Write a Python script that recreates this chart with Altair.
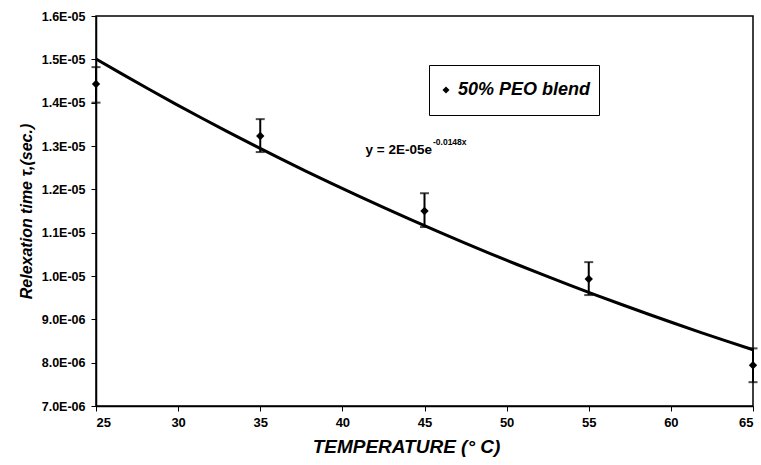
import altair as alt
import pandas as pd

# ---- data ----
temperature = [25, 35, 45, 55, 65]
tau = [1.443e-5, 1.323e-5, 1.150e-5, 0.993e-5, 0.794e-5]
tau_upper = [1.482e-5, 1.362e-5, 1.191e-5, 1.032e-5, 0.833e-5]
tau_lower = [1.400e-5, 1.286e-5, 1.113e-5, 0.956e-5, 0.755e-5]
series_name = "50% PEO blend"

x_ticks = [25, 30, 35, 40, 45, 50, 55, 60, 65]
y_ticks = [7e-6, 8e-6, 9e-6, 1.0e-5, 1.1e-5, 1.2e-5, 1.3e-5, 1.4e-5, 1.5e-5, 1.6e-5]

equation_main = "y = 2E-05e"
equation_sup = "-0.0148x"

df = pd.DataFrame({
    "temp": temperature,
    "tau": tau,
    "upper": tau_upper,
    "lower": tau_lower,
    "series": [series_name] * len(temperature),
})

FONT = "Liberation Sans"

x_scale = alt.Scale(domain=[25, 65], nice=False, zero=False)
y_scale = alt.Scale(domain=[7e-6, 1.6e-5], nice=False, zero=False)

x_axis = alt.Axis(
    values=x_ticks, title="TEMPERATURE (° C)", grid=False,
    labelFont=FONT, labelFontSize=13, labelFontWeight="bold", labelColor="black",
    labelPadding=5, tickSize=5, tickColor="black", domainColor="black", domainWidth=1.5,
    titleFont=FONT, titleFontSize=19, titleFontWeight="bold", titleFontStyle="italic",
    titleColor="black", titleX=310, titleY=40, titleBaseline="middle", titleAlign="center",
)
y_axis = alt.Axis(
    values=y_ticks, title="Relexation time  τ,(sec.)", grid=False,
    labelExpr="replace(format(datum.value, '.1e'), 'e-', 'E-0')",
    labelFont=FONT, labelFontSize=12.5, labelFontWeight="bold", labelColor="black",
    labelPadding=6, tickSize=5, tickColor="black", domainColor="black", domainWidth=1.5,
    titleFont=FONT, titleFontSize=16, titleFontWeight="bold", titleFontStyle="italic",
    titleColor="black", titlePadding=7,
)

base = alt.Chart(df)

# exponential trend: linear fit of ln(tau) vs temperature, back-transformed
trend = base.transform_calculate(
    ln_tau="log(datum.tau)"
).transform_regression(
    "temp", "ln_tau", method="poly", order=1, extent=[25, 65]
).transform_calculate(
    tau="exp(datum.ln_tau)"
).mark_line(color="black", strokeWidth=3).encode(
    x=alt.X("temp:Q", scale=x_scale, axis=x_axis),
    y=alt.Y("tau:Q", scale=y_scale, axis=y_axis),
)

err_rule = base.mark_rule(color="black", strokeWidth=2).encode(
    x="temp:Q", y="lower:Q", y2="upper:Q"
)
cap_top = base.mark_tick(color="black", orient="horizontal", size=9, thickness=2).encode(
    x="temp:Q", y="upper:Q"
)
cap_bot = base.mark_tick(color="black", orient="horizontal", size=9, thickness=2).encode(
    x="temp:Q", y="lower:Q"
)

points = base.mark_point(filled=True, opacity=1, size=70).encode(
    x="temp:Q",
    y="tau:Q",
    color=alt.Color("series:N", scale=alt.Scale(range=["black"]),
                    legend=alt.Legend(title=None)),
    shape=alt.Shape("series:N", scale=alt.Scale(range=["diamond"]),
                    legend=alt.Legend(title=None)),
)

eq_main = alt.Chart(pd.DataFrame({"t": [equation_main]})).mark_text(
    font=FONT, fontSize=13.5, fontWeight="bold", color="black", align="right", baseline="alphabetic"
).encode(x=alt.value(336), y=alt.value(138), text="t:N")

eq_sup = alt.Chart(pd.DataFrame({"t": [equation_sup]})).mark_text(
    font=FONT, fontSize=8.5, fontWeight="bold", color="black", align="left", baseline="alphabetic"
).encode(x=alt.value(337), y=alt.value(129), text="t:N")

chart = alt.layer(trend, err_rule, cap_top, cap_bot, points, eq_main, eq_sup).properties(
    width=657, height=390,
    autosize=alt.AutoSizeParams(type="none"),
    padding={"left": 96, "top": 16, "right": 8, "bottom": 59},
    background="white",
).configure_view(
    stroke="black", strokeWidth=1.5
).configure_legend(
    orient="none", legendX=333, legendY=49,
    strokeColor="black", fillColor="white", padding=8, clipHeight=34,
    labelFont=FONT, labelFontSize=18, labelFontWeight="bold", labelFontStyle="italic",
    labelColor="black", symbolSize=50, symbolType="diamond", labelOffset=3,
)

chart.save("out.html", embed_options={"renderer": "svg", "actions": False})
